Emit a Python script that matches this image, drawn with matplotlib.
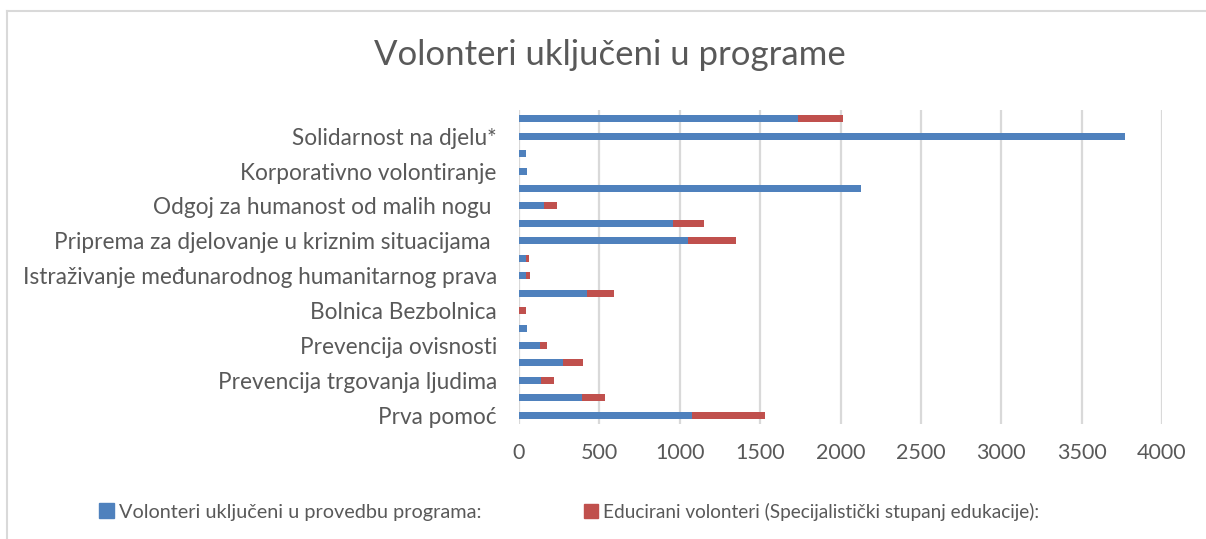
import matplotlib
matplotlib.use("Agg")
import matplotlib.pyplot as plt
from matplotlib.patches import Patch

plt.rcParams['font.family'] = ['Lato', 'DejaVu Sans']

# Categories bottom -> top (only every other label is shown in the reference)
categories = [
    "Prva pomoć", "",
    "Prevencija trgovanja ljudima", "",
    "Prevencija ovisnosti", "",
    "Bolnica Bezbolnica", "",
    "Istraživanje međunarodnog humanitarnog prava", "",
    "Priprema za djelovanje u kriznim situacijama ", "",
    "Odgoj za humanost od malih nogu ", "",
    "Korporativno volontiranje", "",
    "Solidarnost na djelu*", "",
]
volonteri_provedba = [1078, 392, 139, 276, 133, 50, 3, 425, 46, 42,
                      1053, 960, 154, 2125, 50, 43, 3770, 1733]
educirani_volonteri = [452, 141, 80, 120, 41, 0, 43, 166, 20, 18,
                       295, 192, 84, 0, 0, 0, 0, 284]
series_names = ["Volonteri uključeni u provedbu programa:",
                "Educirani volonteri (Specijalistički stupanj edukacije):"]
x_ticks = [0, 500, 1000, 1500, 2000, 2500, 3000, 3500, 4000]
title = "Volonteri uključeni u programe"

BLUE = "#4f81bd"
RED = "#c0504d"
TXT = "#595959"
GRID = "#d9d9d9"

W, H = 1206, 539
fig = plt.figure(figsize=(W / 100, H / 100), dpi=100)

# chart border (left and top lines)
fig.add_artist(plt.Line2D([7 / W, 7 / W], [0, 1 - 11 / H], color=GRID, lw=1.5,
                          transform=fig.transFigure))
fig.add_artist(plt.Line2D([7 / W, 1], [1 - 11 / H, 1 - 11 / H], color=GRID, lw=1.5,
                          transform=fig.transFigure))

left, right = 519 / W, 1162 / W
top, bottom = 1 - 110 / H, 1 - 424 / H
ax = fig.add_axes([left, bottom, right - left, top - bottom])

ypos = list(range(len(categories)))
ax.barh(ypos, volonteri_provedba, height=0.4, color=BLUE, label=series_names[0], zorder=3)
ax.barh(ypos, educirani_volonteri, left=volonteri_provedba, height=0.4, color=RED,
        label=series_names[1], zorder=3)

ax.set_xlim(0, 4000)
ax.set_ylim(-0.5, len(categories) - 0.5)
ax.set_xticks(x_ticks)
ax.set_xticklabels([str(t) for t in x_ticks])
ax.set_yticks(ypos)
ax.set_yticklabels(categories)
for s in ax.spines.values():
    s.set_visible(False)
ax.grid(axis='x', color=GRID, lw=1.6, zorder=0)
ax.tick_params(axis='both', length=0, colors=TXT)
ax.tick_params(axis='y', pad=16, labelsize=16.3)
ax.tick_params(axis='x', pad=14, labelsize=15.5)

fig.text(610 / W, 1 - 55 / H, title, ha='center', va='center', fontsize=25, color=TXT)

leg_kw = dict(loc='center left', frameon=False, labelcolor=TXT, borderpad=0,
              borderaxespad=0, handlelength=0.75, handleheight=0.75, handletextpad=0.25)
fig.legend([Patch(color=BLUE)], [series_names[0]],
           bbox_to_anchor=(99 / W, 1 - 512 / H), fontsize=14.3, **leg_kw)
fig.legend([Patch(color=RED)], [series_names[1]],
           bbox_to_anchor=(584 / W, 1 - 512 / H), fontsize=13.7, **leg_kw)

fig.savefig("out.png", dpi=100)
